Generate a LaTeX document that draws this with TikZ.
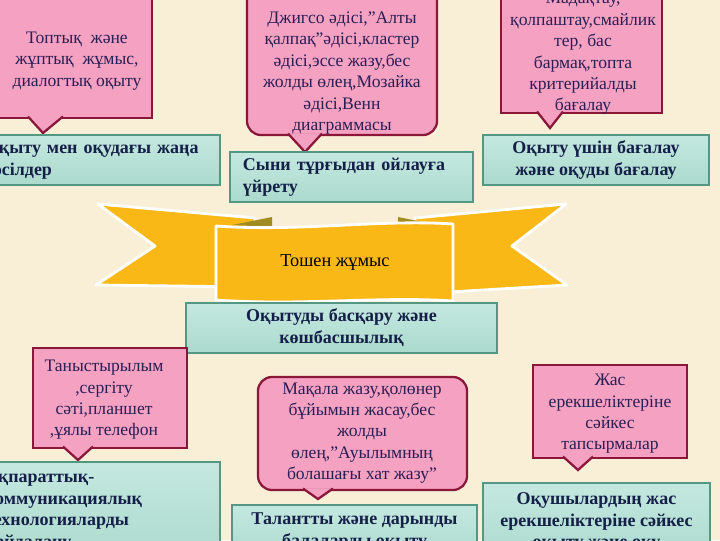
\documentclass[tikz,border=0pt]{standalone}
\usepackage{fontspec}
\setmainfont{Liberation Serif}
\usepackage{tikz}
\usetikzlibrary{calc}

\definecolor{cream}{RGB}{249,239,215}
\definecolor{pinkfill}{RGB}{245,162,194}
\definecolor{pinkline}{RGB}{138,22,58}
\definecolor{pinkink}{RGB}{42,30,84}
\definecolor{greentop}{RGB}{196,232,224}
\definecolor{greenmid}{RGB}{218,242,235}
\definecolor{greenbot}{RGB}{172,218,205}
\definecolor{greenline}{RGB}{84,152,132}
\definecolor{greenink}{RGB}{20,32,72}
\definecolor{ribbon}{RGB}{250,184,22}
\definecolor{ribbonfold}{RGB}{160,140,32}

\begin{document}
\begin{tikzpicture}[x=0.025cm,y=-0.025cm,
  pinkbox/.style={draw=pinkline,fill=pinkfill,line width=1.6pt,outer sep=0pt,inner sep=0pt},
  pinktext/.style={text=pinkink,align=center,inner sep=0pt,font=\fontsize{12.5}{15.2}\selectfont},
  pointer/.style={draw=pinkline,fill=pinkfill,line width=1.6pt,line join=miter},
  greenbox/.style={draw=greenline,line width=0.8pt,top color=greentop,middle color=greenmid,bottom color=greenbot,
    text=greenink,inner sep=0pt,outer sep=0pt,minimum height=1.25cm,font=\fontsize{12.8}{15.6}\selectfont\bfseries},
  wing/.style={fill=ribbon,draw=white,line width=2pt,line join=round},
  fold/.style={fill=ribbonfold}]
  \useasboundingbox (0,0) rectangle (720,540);
  \fill[cream] (0,0) rectangle (720,540);
  \clip (0,0) rectangle (720,540);

  % ribbon
  \filldraw[wing] (98,204) -- (255,218) -- (255,287) -- (96,285) -- (155,246) -- cycle;
  \filldraw[wing] (566,204) -- (415,218) -- (415,294) -- (567,285) -- (512,246) -- cycle;
  \fill[fold] (232,225) -- (272,217) -- (272,227) -- cycle;
  \fill[fold] (398,217) -- (438,225) -- (398,227) -- cycle;
  \filldraw[wing] (216,226) .. controls (300,232) and (380,219) .. (453,224)
    -- (453,301) .. controls (380,296) and (300,306) .. (216,300) -- cycle;
  \node[font=\fontsize{13}{15}\selectfont] (work) at (335,262) {Тошен жұмыс};

  % top row
  \node[pinkbox,minimum width=3.85cm,minimum height=3.7cm] (groups) at (75,44) {};
  \coordinate (groupstip) at (43,133);
  \filldraw[pointer] ($(groups.south west)+(30,-1.5)$) -- (groupstip) -- ($(groups.south west)+(65,-1.5)$);
  \node[pinktext] (groupstext) at (77,61) {Топтық\enspace және\\жұптық\enspace жұмыс,\\диалогтық оқыту};

  \node[pinkbox,rounded corners=10pt,minimum width=4.75cm,minimum height=4.125cm] (methods) at (342,52.5) {};
  \coordinate (methodstip) at (305,152);
  \filldraw[pointer] ($(methods.south west)+(41,-1.5)$) -- (methodstip) -- ($(methods.south west)+(75,-1.5)$);
  \node[pinktext] (methodstext) at (342,73) {Джигсо әдісі,”Алты\\қалпақ”әдісі,кластер\\әдісі,эссе жазу,бес\\жолды өлең,Мозайка\\әдісі,Венн\\диаграммасы};

  \node[pinkbox,minimum width=4.025cm,minimum height=3.575cm] (praise) at (581.5,41.5) {};
  \coordinate (praisetip) at (550,128);
  \filldraw[pointer] ($(praise.south west)+(36,-1.5)$) -- (praisetip) -- ($(praise.south west)+(62,-1.5)$);
  \node[pinktext] (praisetext) at (583,53.5) {Мадақтау,\\қолпаштау,смайлик\\тер, бас\\бармақ,топта\\критерийалды\\бағалау};

  \node[greenbox,minimum width=6.25cm,text width=5.5cm,align=left] (newapp) at (95,160) {Оқыту мен оқудағы жаңа\\тәсілдер};
  \node[greenbox,minimum width=6.075cm,text width=5.425cm,align=left] (critical) at (351.5,177) {Сыни тұрғыдан ойлауға\\үйрету};
  \node[greenbox,minimum width=5.65cm,align=center] (assess) at (596,160) {Оқыту үшін бағалау\\және оқуды бағалау};

  % middle
  \node[greenbox,minimum width=7.775cm,align=center] (lead) at (341.5,328) {Оқытуды басқару және\\көшбасшылық};

  % bottom row
  \node[pinkbox,minimum width=3.85cm,minimum height=2.5cm] (devices) at (110,398) {};
  \coordinate (devicestip) at (78,460);
  \filldraw[pointer] ($(devices.south west)+(30,-1.5)$) -- (devicestip) -- ($(devices.south west)+(60,-1.5)$);
  \node[pinktext] (devicestext) at (104,400) {Таныстырылым\\,сергіту\\сәті,планшет\\,ұялы телефон};

  \node[pinkbox,rounded corners=10pt,minimum width=5.225cm,minimum height=2.825cm] (essay) at (362.5,433.5) {};
  \coordinate (essaytip) at (318,499);
  \filldraw[pointer] ($(essay.south west)+(45,-1.5)$) -- (essaytip) -- ($(essay.south west)+(75,-1.5)$);
  \node[pinktext] (essaytext) at (362,433) {Мақала жазу,қолөнер\\бұйымын жасау,бес\\жолды\\өлең,”Ауылымның\\болашағы хат жазу”};

  \node[pinkbox,minimum width=3.85cm,minimum height=2.325cm] (tasks) at (610,411.5) {};
  \coordinate (taskstip) at (578,470);
  \filldraw[pointer] ($(tasks.south west)+(30,-1.5)$) -- (taskstip) -- ($(tasks.south west)+(60,-1.5)$);
  \node[pinktext] (taskstext) at (610,414) {Жас\\ерекшеліктеріне\\сәйкес\\тапсырмалар};

  \node[greenbox,minimum width=6.25cm,minimum height=2.45cm,text width=5.5cm,align=left] (ict) at (95,511) {Ақпараттық-\\коммуникациялық\\технологияларды\\пайдалану};
  \node[greenbox,minimum width=6.125cm,minimum height=1.35cm,align=center] (gifted) at (354.5,532) {Талантты және дарынды\\балаларды оқыту};
  \node[greenbox,minimum width=5.675cm,minimum height=1.95cm,align=center] (age) at (596.5,522) {Оқушылардың жас\\ерекшеліктеріне сәйкес\\оқыту және оқу};
\end{tikzpicture}
\end{document}
